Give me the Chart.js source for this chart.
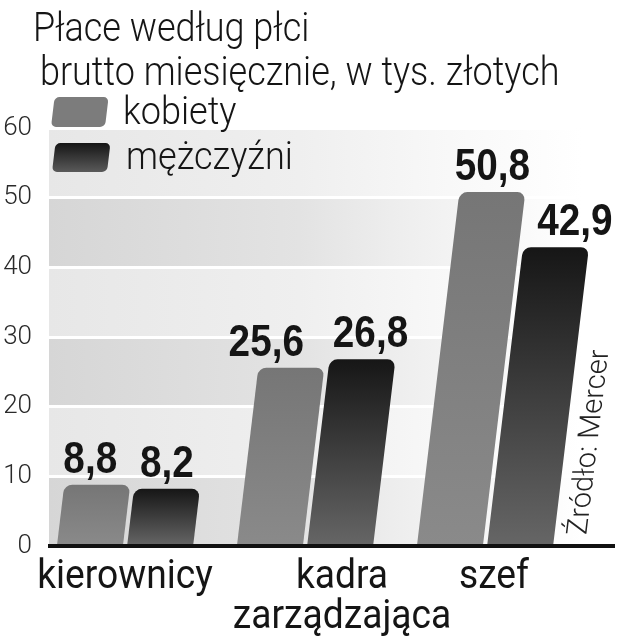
<!DOCTYPE html>
<html>
<head>
<meta charset="utf-8">
<script src="https://cdn.jsdelivr.net/npm/chart.js@4.4.1/dist/chart.umd.min.js"></script>
<style>
  html, body { margin: 0; padding: 0; background: #fff; }
  canvas { display: block; }
</style>
</head>
<body>
<canvas id="chart" width="620" height="640"></canvas>
<script>
// data
const categories = ['kierownicy', ['kadra', 'zarządzająca'], 'szef'];
const seriesNames = ['kobiety', 'mężczyźni'];
const women = [8.8, 25.6, 50.8];
const men = [8.2, 26.8, 42.9];
const yTicks = [0, 10, 20, 30, 40, 50, 60];
const titleLines = ['Płace według płci', 'brutto miesięcznie, w tys. złotych'];
const sourceNote = 'Źródło: Mercer';

// look
const SKEW = 0.12;
const catNudge = [0, 37, 9];
const valueNudge = [[-7, -25, 0], [0, 8, 19]];
const ink = '#151515';

function barFill(top, bottom) {
    return (c) => {
        const chart = c.chart;
        if (!chart.chartArea || c.raw === undefined) return bottom;
        const ys = chart.scales.y;
        const g = chart.ctx.createLinearGradient(0, ys.getPixelForValue(c.raw), 0, ys.getPixelForValue(0));
        g.addColorStop(0, top);
        g.addColorStop(1, bottom);
        return g;
    };
}

function squeezeText(ctx, str, x, y, font, sx, align) {
    ctx.save();
    ctx.font = font;
    ctx.translate(x, y);
    ctx.scale(sx, 1);
    ctx.textAlign = align || 'left';
    ctx.textBaseline = 'alphabetic';
    ctx.fillStyle = ink;
    ctx.fillText(str, 0, 0);
    ctx.restore();
}

function swatch(ctx, x, top, w, h, fill) {
    ctx.save();
    ctx.transform(1, 0, -SKEW, 1, SKEW * (top + h), 0);
    ctx.beginPath();
    ctx.roundRect(x, top, w, h, 5);
    ctx.fillStyle = fill;
    ctx.fill();
    ctx.restore();
}

const decor = {
    id: 'decor',
    beforeDraw(chart) {
        const ctx = chart.ctx;
        const ys = chart.scales.y;
        const left = 49, right = 582;
        for (let i = 0; i < yTicks.length - 1; i++) {
            const top = ys.getPixelForValue(yTicks[i + 1]);
            const bot = ys.getPixelForValue(yTicks[i]);
            const g = ctx.createLinearGradient(left, 0, right, 0);
            if (i % 2 === 0) {
                g.addColorStop(0, '#d6d6d6');
                g.addColorStop(0.47, '#e3e3e3');
                g.addColorStop(0.66, '#eeeeee');
                g.addColorStop(0.82, '#f6f6f6');
            } else {
                g.addColorStop(0, '#e7e7e7');
                g.addColorStop(0.47, '#efefef');
                g.addColorStop(0.75, '#f8f8f8');
            }
            g.addColorStop(1, '#ffffff');
            ctx.fillStyle = g;
            ctx.fillRect(left, top, right - left, bot - top);
        }
    },
    beforeDatasetsDraw(chart) {
        const y0 = chart.scales.y.getPixelForValue(0);
        chart.ctx.save();
        chart.ctx.transform(1, 0, -SKEW, 1, SKEW * y0, 0);
    },
    afterDatasetsDraw(chart) {
        chart.ctx.restore();
    },
    afterDraw(chart) {
        const ctx = chart.ctx;
        const xs = chart.scales.x;
        const ys = chart.scales.y;
        const y0 = ys.getPixelForValue(0);

        // base line
        ctx.save();
        ctx.strokeStyle = '#111';
        ctx.lineWidth = 4;
        ctx.beginPath();
        ctx.moveTo(48, y0);
        ctx.lineTo(615, y0);
        ctx.stroke();
        ctx.restore();

        // value labels
        chart.data.datasets.forEach((ds, di) => {
            chart.getDatasetMeta(di).data.forEach((bar, i) => {
                const cx = bar.x + SKEW * (y0 - bar.y) + valueNudge[di][i];
                const label = ds.data[i].toFixed(1).replace('.', ',');
                squeezeText(ctx, label, cx, bar.y - 12, 'bold 44px "Liberation Sans"', 0.88, 'center');
            });
        });

        // category labels
        categories.forEach((c, i) => {
            const lines = Array.isArray(c) ? c : [c];
            const cx = xs.getPixelForValue(i) + catNudge[i];
            lines.forEach((ln, j) => {
                squeezeText(ctx, ln, cx, 588 + j * 40, '400 40px Roboto', 0.93, 'center');
            });
        });

        // title
        squeezeText(ctx, titleLines[0], 33, 41, '300 40px Roboto', 0.9, 'left');
        squeezeText(ctx, titleLines[1], 40, 85, '300 40px Roboto', 0.9, 'left');

        // legend
        const mg = ctx.createLinearGradient(0, 143, 0, 172);
        mg.addColorStop(0, '#151515');
        mg.addColorStop(1, '#5a5a5a');
        swatch(ctx, 51, 97, 54, 30, '#7c7c7c');
        swatch(ctx, 52, 143, 55, 29, mg);
        squeezeText(ctx, seriesNames[0], 123, 124, '300 38px Roboto', 0.95, 'left');
        squeezeText(ctx, seriesNames[1], 126, 169, '300 38px Roboto', 0.95, 'left');

        // source, slanted like the bars
        ctx.save();
        ctx.transform(1, 0, -SKEW, 1, SKEW * y0, 0);
        ctx.translate(585, 535);
        ctx.rotate(-Math.PI / 2);
        ctx.font = '300 29px Roboto';
        ctx.fillStyle = '#222';
        ctx.textAlign = 'left';
        ctx.fillText(sourceNote, 0, 0);
        ctx.restore();
    }
};

new Chart(document.getElementById('chart'), {
    type: 'bar',
    data: {
        labels: categories,
        datasets: [
            {
                label: seriesNames[0],
                data: women,
                backgroundColor: barFill('#767676', '#8a8a8a')
            },
            {
                label: seriesNames[1],
                data: men,
                backgroundColor: barFill('#161616', '#666666')
            }
        ]
    },
    options: {
        responsive: false,
        animation: false,
        layout: { padding: { top: 128, right: 45, left: 0, bottom: 0 } },
        datasets: {
            bar: {
                barPercentage: 0.94,
                categoryPercentage: 0.78,
                borderRadius: { topLeft: 8, topRight: 8, bottomLeft: 0, bottomRight: 0 },
                borderSkipped: 'start',
                clip: false
            }
        },
        plugins: {
            legend: { display: false },
            title: { display: false },
            tooltip: { enabled: false }
        },
        scales: {
            x: {
                grid: { display: false },
                border: { display: false },
                ticks: { display: false },
                afterFit(s) { s.height = 94; }
            },
            y: {
                min: 0,
                max: 60,
                z: 1,
                afterBuildTicks(s) { s.ticks = yTicks.map(v => ({ value: v })); },
                ticks: {
                    padding: 3,
                    color: '#2a2a2a',
                    font: { family: 'Roboto', weight: '300', size: 26 }
                },
                grid: { color: '#ffffff', lineWidth: 3, drawTicks: false },
                border: { display: false },
                afterFit(s) { s.width = 35; }
            }
        }
    },
    plugins: [decor]
});
</script>
</body>
</html>
